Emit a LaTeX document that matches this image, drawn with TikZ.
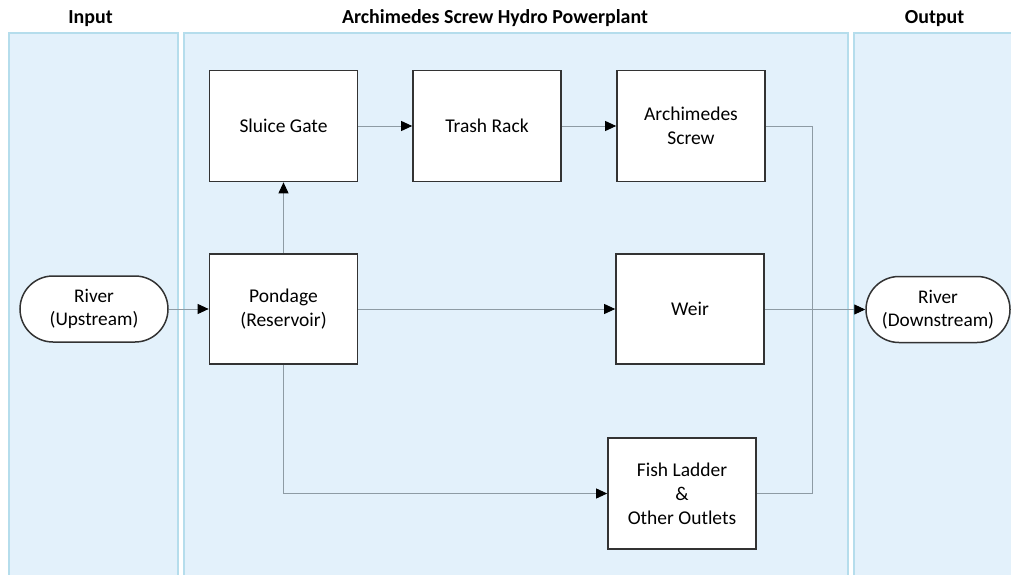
\documentclass[tikz,border=0pt]{standalone}
\usepackage{fontspec}
\setmainfont{Carlito}
\usetikzlibrary{arrows.meta}
\definecolor{lanefill}{HTML}{E3F1FB}
\definecolor{laneline}{HTML}{B5DDEC}
\definecolor{conn}{HTML}{8E9BA4}
\definecolor{boxline}{HTML}{333333}
\tikzset{
  lane/.style={fill=lanefill,draw=laneline,line width=1.2pt},
  header/.style={font=\fontsize{19.9}{24}\selectfont\bfseries,inner sep=0pt},
  procbox/.style={draw=boxline,fill=white,line width=1.7pt,minimum width=148pt,minimum height=111pt,
    align=center,font=\fontsize{19.5}{24}\selectfont,inner sep=2pt},
  terminal/.style={draw=boxline,fill=white,line width=1.5pt,minimum width=148pt,minimum height=66pt,
    rounded corners=33pt,align=center,font=\fontsize{19.3}{23}\selectfont,inner sep=2pt},
  conn/.style={draw=conn,line width=0.9pt},
  arr/.style={conn,-{Triangle[color=black,length=11pt,width=10pt]}}
}
\begin{document}
\begin{tikzpicture}[x=1pt,y=-1pt]
\useasboundingbox (0,0) rectangle (1011,575);
\fill[white] (0,0) rectangle (1011,575);
% lanes
\draw[lane] (9,33) rectangle (178,578);
\draw[lane] (184,33) rectangle (848,578);
\draw[lane] (854,33) rectangle (1016,578);
% headers
\node[header] (hin) at (90.5,18.5) {Input};
\node[header] (hmid) at (495,18.5) {Archimedes Screw Hydro Powerplant};
\node[header] (hout) at (934.5,18.5) {Output};
% nodes
\node[terminal] (riverup) at (94,309) {River\\(Upstream)};
\node[terminal,minimum width=144pt] (riverdown) at (938,309.5) {River\\(Downstream)};
\node[procbox] (sluice) at (283.5,126) {Sluice Gate};
\node[procbox] (trash) at (487,126) {Trash Rack};
\node[procbox] (arch) at (691,126) {Archimedes\\Screw};
\node[procbox,minimum height=110pt] (pond) at (283.5,309) {Pondage\\(Reservoir)};
\node[procbox,minimum height=110pt] (weir) at (690,309) {Weir};
\node[procbox] (fish) at (682,493.5) {Fish Ladder\\\&\\Other Outlets};
\coordinate (j) at (812,309.5);
% connectors
\draw[arr] (riverup.east) -- (pond.west);
\draw[arr] (pond.north) -- (sluice.south);
\draw[arr] (sluice.east) -- (trash.west);
\draw[arr] (trash.east) -- (arch.west);
\draw[arr] (pond.east) -- (weir.west);
\draw[arr] (pond.south) |- (fish.west);
\draw[conn] (arch.east) -| (j);
\draw[conn] (fish.east) -| (j);
\draw[arr] (weir.east |- j) -- (riverdown.west);
\end{tikzpicture}
\end{document}
